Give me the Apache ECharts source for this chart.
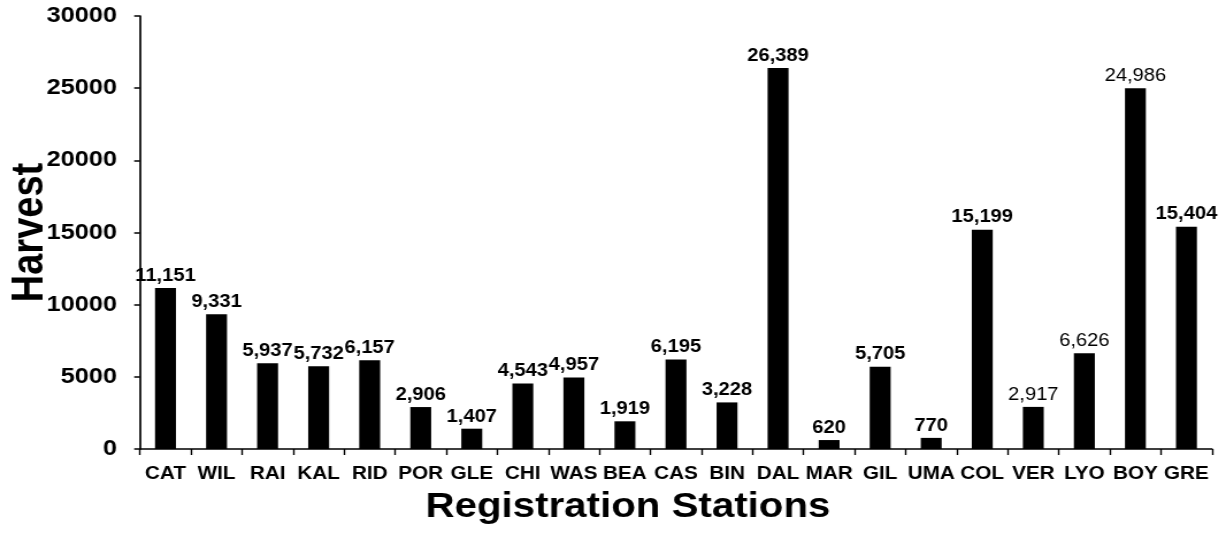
<!DOCTYPE html>
<html>
<head>
<meta charset="utf-8">
<script src="https://cdn.jsdelivr.net/npm/echarts@6/dist/echarts.min.js"></script>
<style>
  html, body { margin: 0; padding: 0; background: #fff; overflow: hidden; }
  /* chart is laid out narrower and widened so the lettering comes out broad */
  #chart { width: 1066px; height: 533px; transform: scaleX(1.15009); transform-origin: 0 0; }
</style>
</head>
<body>
<div id="chart"></div>
<script>
const stations = ['CAT','WIL','RAI','KAL','RID','POR','GLE','CHI','WAS','BEA','CAS','BIN','DAL','MAR','GIL','UMA','COL','VER','LYO','BOY','GRE'];
const harvest = [11151, 9331, 5937, 5732, 6157, 2906, 1407, 4543, 4957, 1919, 6195, 3228, 26389, 620, 5705, 770, 15199, 2917, 6626, 24986, 15404];
const yTicks = { min: 0, max: 30000, interval: 5000 };

// stations whose value label is set in regular weight
const regularWeightLabels = ['VER', 'LYO', 'BOY'];

const FONT = "'Liberation Sans', Arial, sans-serif";
const fmt = v => v.toLocaleString('en-US');

const chart = echarts.init(document.getElementById('chart'), null, { renderer: 'canvas' });

chart.setOption({
  animation: false,
  backgroundColor: '#ffffff',
  title: {
    text: 'Registration Stations',
    left: 365,
    top: 485,
    textStyle: { fontFamily: FONT, fontWeight: 'bold', fontSize: 35, color: '#000' }
  },
  grid: { left: 121.7, right: 12.2, top: 16, bottom: 84, containLabel: false, outerBoundsMode: 'none' },
  xAxis: {
    type: 'category',
    data: stations,
    boundaryGap: true,
    axisLine: { lineStyle: { color: '#000', width: 1.6 } },
    axisTick: { show: true, alignWithLabel: false, length: 6, lineStyle: { color: '#000', width: 1.4 } },
    axisLabel: { interval: 0, margin: 16, color: '#000', fontFamily: FONT, fontWeight: 'bold', fontSize: 18 },
    splitLine: { show: false }
  },
  yAxis: {
    type: 'value',
    min: yTicks.min,
    max: yTicks.max,
    interval: yTicks.interval,
    name: 'Harvest',
    nameLocation: 'middle',
    nameGap: 76,
    nameMoveOverlap: false,
    nameTextStyle: { fontFamily: FONT, fontWeight: 'bold', fontSize: 38, color: '#000' },
    axisLine: { show: true, lineStyle: { color: '#000', width: 1.7 } },
    axisTick: { show: true, inside: false, length: 5, lineStyle: { color: '#000', width: 1.5 } },
    axisLabel: { margin: 20, color: '#000', fontFamily: FONT, fontWeight: 'bold', fontSize: 22, formatter: v => String(v) },
    splitLine: { show: false }
  },
  series: [{
    type: 'bar',
    barWidth: '41%',
    itemStyle: { color: '#000' },
    label: {
      show: true,
      position: 'top',
      distance: 3,
      color: '#000',
      fontFamily: FONT,
      fontWeight: 'bold',
      fontSize: 17.5,
      formatter: p => fmt(p.value)
    },
    data: harvest.map((v, i) => regularWeightLabels.includes(stations[i])
      ? { value: v, label: { fontWeight: 'normal' } }
      : v)
  }]
});
</script>
</body>
</html>
